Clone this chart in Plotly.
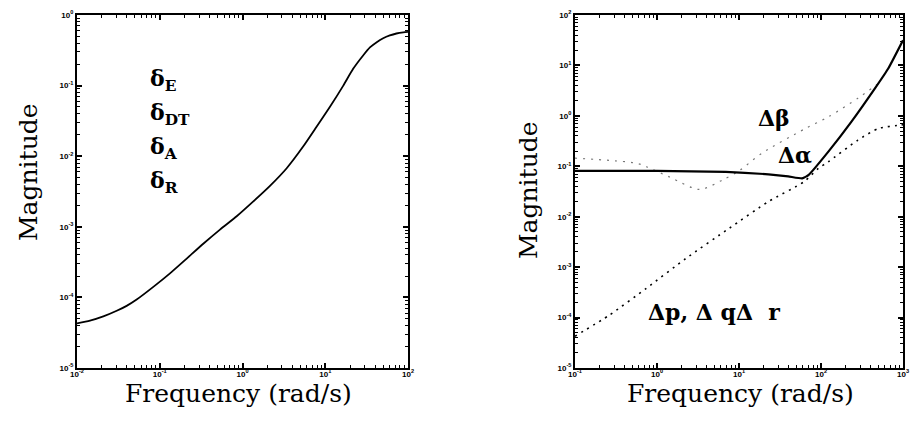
import plotly.graph_objects as go

# ---------------- data ----------------
# Left panel: control surface deflections (deltaE, deltaDT, deltaA, deltaR)
left_freq = [0.0100, 0.01436, 0.0208, 0.0302, 0.0398, 0.0526, 0.0836, 0.133, 0.2118, 0.3357,
             0.5346, 0.851, 1.352, 2.148, 3.42, 5.433, 7.889, 11.40, 16.52, 21.83, 28.84,
             34.67, 41.88, 50.12, 60.26, 72.44, 87.70, 100.0]
left_mag = [4.27e-5, 4.68e-5, 5.37e-5, 6.46e-5, 7.59e-5, 9.33e-5, 1.41e-4, 2.19e-4, 3.55e-4,
            5.75e-4, 9.12e-4, 1.41e-3, 2.29e-3, 3.80e-3, 6.76e-3, 0.0138, 0.0263, 0.0501,
            0.100, 0.174, 0.269, 0.347, 0.412, 0.468, 0.513, 0.547, 0.569, 0.578]

# Right panel
alpha_freq = [0.1, 1.0, 6.9, 22.9, 39.8, 58.9, 70.8, 123.0, 234.0, 457.0, 661.0, 1000.0]
alpha_mag = [0.0813, 0.0810, 0.0776, 0.0692, 0.0631, 0.0575, 0.0676, 0.195, 0.759, 3.55, 8.71, 31.6]

beta_freq = [0.1, 0.562, 0.741, 1.41, 3.31, 6.31, 10.0, 19.1, 64.6, 123.0, 282.0, 501.0]
beta_mag = [0.145, 0.115, 0.098, 0.0617, 0.0347, 0.0537, 0.0813, 0.182, 0.562, 0.955, 2.24, 4.37]

pqr_freq = [0.1, 0.263, 0.741, 2.24, 7.59, 22.9, 61.7, 93.3, 123.0, 282.0, 501.0, 955.0, 1000.0]
pqr_mag = [4.27e-5, 1.12e-4, 3.80e-4, 1.48e-3, 5.89e-3, 0.0200, 0.0490, 0.0912, 0.123, 0.331, 0.562, 0.661, 0.668]

left_xticks = [0.01, 0.1, 1, 10, 100]
left_xtext = ["10<sup>-2</sup>", "10<sup>-1</sup>", "10<sup>0</sup>", "10<sup>1</sup>", "10<sup>2</sup>"]
left_yticks = [1e-5, 1e-4, 1e-3, 1e-2, 1e-1, 1]
left_ytext = ["10<sup>-5</sup>", "10<sup>-4</sup>", "10<sup>-3</sup>", "10<sup>-2</sup>", "10<sup>-1</sup>", "10<sup>0</sup>"]
right_xticks = [0.1, 1, 10, 100, 1000]
right_xtext = ["10<sup>-1</sup>", "10<sup>0</sup>", "10<sup>1</sup>", "10<sup>2</sup>", "10<sup>3</sup>"]
right_yticks = [1e-5, 1e-4, 1e-3, 1e-2, 1e-1, 1, 10, 100]
right_ytext = ["10<sup>-5</sup>", "10<sup>-4</sup>", "10<sup>-3</sup>", "10<sup>-2</sup>",
               "10<sup>-1</sup>", "10<sup>0</sup>", "10<sup>1</sup>", "10<sup>2</sup>"]


def minor_vals(decades):
    out = []
    for d in decades[:-1]:
        for k in range(2, 10):
            out.append(d * k)
    return out


# ---------------- figure ----------------
W, H = 911, 425


def px(x):
    return x / W


def py(y):
    return 1 - y / H


fig = go.Figure()

fig.add_trace(go.Scatter(x=left_freq, y=left_mag, mode="lines", xaxis="x", yaxis="y",
                         line=dict(color="black", width=1.8, shape="spline", smoothing=0.6),
                         showlegend=False))
fig.add_trace(go.Scatter(x=beta_freq, y=beta_mag, mode="lines", xaxis="x2", yaxis="y2",
                         line=dict(color="#777777", width=1.2, dash="2px,6px", shape="spline", smoothing=0.8),
                         showlegend=False))
fig.add_trace(go.Scatter(x=pqr_freq, y=pqr_mag, mode="lines", xaxis="x2", yaxis="y2",
                         line=dict(color="black", width=1.6, dash="2px,5px", shape="spline", smoothing=0.6),
                         showlegend=False))
fig.add_trace(go.Scatter(x=alpha_freq, y=alpha_mag, mode="lines", xaxis="x2", yaxis="y2",
                         line=dict(color="black", width=2.2, shape="spline", smoothing=0.4),
                         showlegend=False))

ydom = [py(368), py(15)]
tickfont = dict(family="Liberation Sans", size=8, color="black", weight="bold")


def axis(rng, dom, anchor, tv, tt, standoff=0):
    return dict(type="log", showgrid=False, zeroline=False, showline=True, linecolor="black",
                linewidth=2, mirror="allticks", ticks="inside", ticklen=5, tickcolor="black",
                tickwidth=1.5, tickfont=tickfont, automargin=False, ticklabelstandoff=standoff,
                range=rng, domain=dom, anchor=anchor, tickvals=tv, ticktext=tt,
                minor=dict(ticks="inside", ticklen=3, tickcolor="black", tickwidth=1,
                           showgrid=False, tickvals=minor_vals(tv)))


fig.update_layout(
    width=W, height=H, paper_bgcolor="white", plot_bgcolor="white",
    margin=dict(l=0, r=0, t=0, b=0, autoexpand=False),
    xaxis=axis([-2, 2], [px(77), px(408)], "y", left_xticks, left_xtext, -3),
    yaxis=axis([-5, 0], ydom, "x", left_yticks, left_ytext),
    xaxis2=axis([-1, 3], [px(575), px(903)], "y2", right_xticks, right_xtext, -3),
    yaxis2=axis([-5, 2], ydom, "x2", right_yticks, right_ytext),
)

title_font = dict(family="DejaVu Serif", size=25, color="black")
lab_font = dict(family="DejaVu Serif", size=22, color="black", weight="bold")
ann = []
ann.append(dict(text="Frequency (rad/s)", x=px(238), y=py(393), xref="paper", yref="paper",
                showarrow=False, font=title_font, xanchor="center", yanchor="middle"))
ann.append(dict(text="Frequency (rad/s)", x=px(740), y=py(393), xref="paper", yref="paper",
                showarrow=False, font=title_font, xanchor="center", yanchor="middle"))
ann.append(dict(text="Magnitude", x=px(28), y=py(172), xref="paper", yref="paper", textangle=-90,
                showarrow=False, font=title_font, xanchor="center", yanchor="middle"))
ann.append(dict(text="Magnitude", x=px(529), y=py(190), xref="paper", yref="paper", textangle=-90,
                showarrow=False, font=title_font, xanchor="center", yanchor="middle"))

deltas = [("δ<sub>E</sub>", 80), ("δ<sub>DT</sub>", 114), ("δ<sub>A</sub>", 148), ("δ<sub>R</sub>", 182)]
for t, yy in deltas:
    ann.append(dict(text=t, x=px(148), y=py(yy), xref="paper", yref="paper", showarrow=False,
                    font=lab_font, xanchor="left", yanchor="middle"))
ann.append(dict(text="Δβ", x=px(756), y=py(118), xref="paper", yref="paper", showarrow=False,
                font=lab_font, xanchor="left", yanchor="middle"))
ann.append(dict(text="Δα", x=px(776), y=py(155), xref="paper", yref="paper", showarrow=False,
                font=lab_font, xanchor="left", yanchor="middle"))
ann.append(dict(text="Δp, Δ qΔ  r", x=px(646), y=py(312), xref="paper", yref="paper", showarrow=False,
                font=lab_font, xanchor="left", yanchor="middle"))
fig.update_layout(annotations=ann)

fig.write_html("out.html", config={"displayModeBar": False},
               post_script="document.body.style.margin='0px';document.body.style.overflow='hidden';")
